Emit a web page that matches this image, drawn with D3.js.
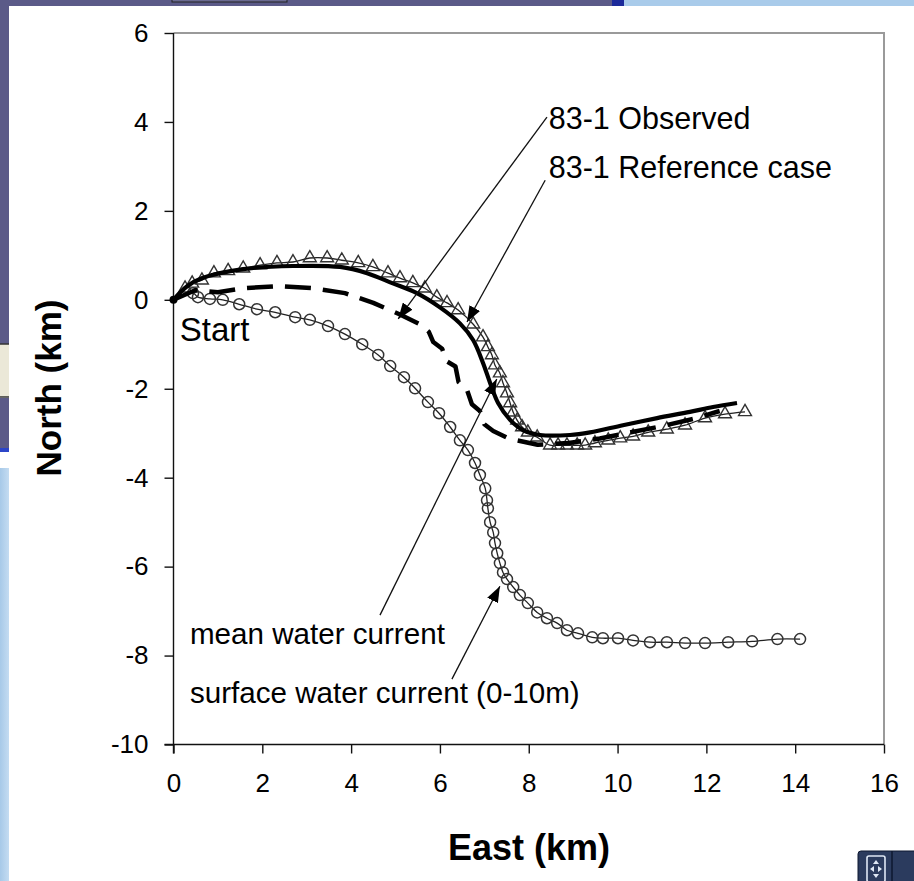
<!DOCTYPE html>
<html>
<head>
<meta charset="utf-8">
<script src="https://cdn.jsdelivr.net/npm/d3@7"></script>
<style>
  body { margin: 0; background: #fff; }
  svg { display: block; font-family: "Liberation Sans", Arial, sans-serif; }
</style>
</head>
<body>
<svg id="chart" width="914" height="881"></svg>
<script>
// Axis ticks (km)
const xTicks = [0, 2, 4, 6, 8, 10, 12, 14, 16];
const yTicks = [-10, -8, -6, -4, -2, 0, 2, 4, 6];

// Drift tracks, [east km, north km]
const observedTrack = [
  [0, 0], [0.5, 0.22], [1.0, 0.17], [1.57, 0.26], [2.38, 0.31], [3.16, 0.26],
  [3.86, 0.15], [4.5, -0.07], [5.1, -0.33], [5.55, -0.55], [5.75, -0.72],
  [5.85, -0.95], [6.05, -1.1], [6.15, -1.38], [6.35, -1.5], [6.42, -1.85],
  [6.6, -2.0], [6.72, -2.35], [6.9, -2.5], [7.0, -2.8], [7.2, -2.95],
  [7.55, -3.12], [8.2, -3.26], [8.9, -3.22], [9.6, -3.12], [10.3, -2.98],
  [11.0, -2.84], [11.7, -2.68], [12.3, -2.5]
];

const referenceTrack = [
  [0, 0], [0.3, 0.3], [0.65, 0.49], [1.57, 0.69], [2.69, 0.76], [3.75, 0.74],
  [4.36, 0.6], [4.94, 0.37], [5.48, 0.15], [6.0, -0.17], [6.45, -0.53],
  [6.75, -0.91], [6.97, -1.42], [7.13, -1.87], [7.31, -2.32], [7.58, -2.7],
  [7.87, -2.93], [8.25, -3.04], [8.93, -3.04], [9.38, -2.98], [10.12, -2.82],
  [10.89, -2.66], [11.63, -2.52], [12.15, -2.41], [12.69, -2.32]
];

const meanCurrentTrack = [
  [0, 0], [0.26, 0.26], [0.42, 0.37], [0.64, 0.44], [0.91, 0.6], [1.23, 0.65],
  [1.57, 0.71], [1.95, 0.78], [2.33, 0.83], [2.69, 0.85], [3.07, 0.94],
  [3.46, 0.94], [3.79, 0.89], [4.16, 0.83], [4.49, 0.74], [4.83, 0.6],
  [5.1, 0.49], [5.39, 0.38], [5.66, 0.26], [5.93, 0.06], [6.16, -0.07],
  [6.41, -0.23], [6.75, -0.55], [6.97, -0.84], [7.08, -1.06], [7.17, -1.24],
  [7.24, -1.47], [7.35, -1.65], [7.42, -1.87], [7.51, -2.1], [7.58, -2.32],
  [7.65, -2.53], [7.74, -2.71], [7.85, -2.86], [7.98, -2.98], [8.19, -3.09],
  [8.48, -3.27], [8.66, -3.27], [8.86, -3.27], [9.09, -3.27], [9.27, -3.27],
  [9.49, -3.22], [9.79, -3.16], [10.06, -3.11], [10.35, -3.07], [10.69, -2.98],
  [11.11, -2.91], [11.52, -2.82], [11.97, -2.66], [12.42, -2.57], [12.87, -2.52]
];

const surfaceCurrentTrack = [
  [0, 0], [0.44, 0.15], [0.55, 0.06], [0.82, 0.02], [1.11, 0.0], [1.48, -0.1],
  [1.88, -0.21], [2.29, -0.28], [2.74, -0.39], [3.07, -0.45], [3.48, -0.59],
  [3.86, -0.77], [4.25, -1.0], [4.61, -1.24], [4.88, -1.49], [5.19, -1.74],
  [5.44, -1.99], [5.73, -2.3], [5.98, -2.55], [6.23, -2.86], [6.45, -3.16],
  [6.63, -3.38], [6.79, -3.67], [6.9, -3.94], [7.02, -4.24], [7.06, -4.51],
  [7.08, -4.69], [7.13, -5.0], [7.2, -5.23], [7.24, -5.47], [7.29, -5.7],
  [7.35, -5.92], [7.42, -6.13], [7.51, -6.28], [7.65, -6.46], [7.8, -6.64],
  [7.98, -6.82], [8.19, -7.03], [8.41, -7.16], [8.64, -7.27], [8.86, -7.43],
  [9.11, -7.5], [9.43, -7.59], [9.67, -7.61], [10.01, -7.61], [10.35, -7.66],
  [10.73, -7.7], [11.11, -7.7], [11.52, -7.72], [11.97, -7.72], [12.49, -7.7],
  [13.03, -7.68], [13.6, -7.63], [14.11, -7.63]
];

// Callout labels: text anchor, leader start and arrow tip (km)
const calloutLabels = ["83-1 Observed", "83-1 Reference case", "mean water current", "surface water current (0-10m)"];
const calloutText = [[8.45, 3.83], [8.45, 2.73], [0.37, -7.75], [0.37, -9.07]];
const calloutFrom = [[8.41, 4.11], [8.37, 2.69], [4.65, -7.09], [6.27, -8.53]];
const calloutTip = [[5.06, -0.43], [6.61, -0.5], [7.28, -1.78], [7.35, -6.44]];
const startLabel = { text: "Start", at: [0.14, -0.93] };

const svg = d3.select("#chart");
const W = 914, H = 881;
const defs = svg.append("defs");

// ---- slide backdrop around the chart panel ----
const bg = svg.append("g");
bg.append("rect").attr("x", 0).attr("y", 0).attr("width", W).attr("height", H).attr("fill", "#fff");
bg.append("rect").attr("x", 0).attr("y", 0).attr("width", 612).attr("height", 6).attr("fill", "#5b5a88");
bg.append("rect").attr("x", 612).attr("y", 0).attr("width", 12).attr("height", 6).attr("fill", "#1c2a9a");
bg.append("rect").attr("x", 624).attr("y", 0).attr("width", W - 624).attr("height", 6).attr("fill", "#a9cbea");
bg.append("rect").attr("x", 172).attr("y", -2).attr("width", 115).attr("height", 4)
  .attr("fill", "#6a6a90").attr("stroke", "#222").attr("stroke-width", 1);
bg.append("rect").attr("x", 0).attr("y", 0).attr("width", 9).attr("height", 344).attr("fill", "#5b5a88");
bg.append("rect").attr("x", 0).attr("y", 344).attr("width", 9).attr("height", 53).attr("fill", "#ebe8d8");
bg.append("line").attr("x1", 0).attr("x2", 9).attr("y1", 344).attr("y2", 344).attr("stroke", "#333").attr("stroke-width", 1.5);
bg.append("line").attr("x1", 0).attr("x2", 9).attr("y1", 397).attr("y2", 397).attr("stroke", "#333").attr("stroke-width", 1.5);
bg.append("rect").attr("x", 0).attr("y", 398).attr("width", 9).attr("height", 50).attr("fill", "#5b5a88");
bg.append("rect").attr("x", 0).attr("y", 448).attr("width", 9).attr("height", 4).attr("fill", "#2c45c8");
const grad = defs.append("linearGradient").attr("id", "sideBlue")
  .attr("x1", 0).attr("x2", 1).attr("y1", 0).attr("y2", 0);
grad.append("stop").attr("offset", "0%").attr("stop-color", "#a7c9e8");
grad.append("stop").attr("offset", "100%").attr("stop-color", "#c4dcf2");
bg.append("rect").attr("x", 0).attr("y", 468).attr("width", 9).attr("height", H - 468).attr("fill", "url(#sideBlue)");

// corner control button
const btn = bg.append("g");
btn.append("rect").attr("x", 858).attr("y", 851).attr("width", 60).attr("height", 34).attr("rx", 3)
  .attr("fill", "#2b3b5e").attr("stroke", "#0e1830");
btn.append("rect").attr("x", 867).attr("y", 856).attr("width", 18).attr("height", 26).attr("rx", 2)
  .attr("fill", "none").attr("stroke", "#dfe8f5").attr("stroke-width", 1.6);
btn.append("line").attr("x1", 892).attr("x2", 892).attr("y1", 851).attr("y2", 881).attr("stroke", "#0e1830").attr("stroke-width", 1.5);
btn.append("path").attr("d", "M876,860 l-3,4 h6 z M876,878 l-3,-4 h6 z M870,869 l4,-3 v6 z M882,869 l-4,-3 v6 z")
  .attr("fill", "#dfe8f5");

// ---- scales ----
const x = d3.scaleLinear().domain([0, 16]).range([173.5, 884]);
const y = d3.scaleLinear().domain([-10, 6]).range([744.5, 33]);

// plot frame (top & right)
const plot = svg.append("g");
plot.append("path")
  .attr("d", `M${x(0)},${y(6)} H${x(16)} V${y(-10)}`)
  .attr("fill", "none").attr("stroke", "#9a9a9a").attr("stroke-width", 2);

// ---- axes ----
const plainNumber = d => String(d);
const xAxis = d3.axisBottom(x).tickValues(xTicks).tickFormat(plainNumber)
  .tickSize(9).tickPadding(20).tickSizeOuter(0);
const yAxis = d3.axisLeft(y).tickValues(yTicks).tickFormat(plainNumber)
  .tickSize(9).tickPadding(16).tickSizeOuter(0);

const gx = plot.append("g").attr("transform", `translate(0,${y(-10)})`).call(xAxis);
const gy = plot.append("g").attr("transform", `translate(${x(0)},0)`).call(yAxis);
[gx, gy].forEach(g => {
  g.select(".domain").attr("stroke", "#111").attr("stroke-width", 1.4);
  g.selectAll(".tick line").attr("stroke", "#111").attr("stroke-width", 1.4);
  g.selectAll(".tick text").attr("fill", "#000").attr("font-size", 26)
    .attr("font-family", "\"Liberation Sans\", Arial, sans-serif");
});
// axes cross each other by the tick length
gx.select(".domain").attr("d", `M${x(0) - 9},0 H${x(16)}`);
gy.select(".domain").attr("d", `M0,${y(6)} V${y(-10) + 9}`);
gx.selectAll(".tick text").attr("dy", "0.71em");

// axis titles
plot.append("text").attr("x", 529).attr("y", 860).attr("text-anchor", "middle")
  .attr("font-size", 36).attr("font-weight", "bold").text("East (km)");
plot.append("text").attr("transform", `translate(61,${388}) rotate(-90)`).attr("text-anchor", "middle")
  .attr("font-size", 35).attr("font-weight", "bold").text("North (km)");

// ---- tracks ----
const line = d3.line().x(d => x(d[0])).y(d => y(d[1])).curve(d3.curveLinear);
const smooth = d3.line().x(d => x(d[0])).y(d => y(d[1])).curve(d3.curveCatmullRom.alpha(0.5));

// surface water current: thin line with open circles
plot.append("path").datum(surfaceCurrentTrack).attr("d", smooth)
  .attr("fill", "none").attr("stroke", "#222").attr("stroke-width", 1.3);
plot.append("g").selectAll("circle").data(surfaceCurrentTrack.slice(1)).join("circle")
  .attr("cx", d => x(d[0])).attr("cy", d => y(d[1])).attr("r", 5.5)
  .attr("fill", "none").attr("stroke", "#333").attr("stroke-width", 1.5);

// mean water current: thin line with open triangles
plot.append("path").datum(meanCurrentTrack).attr("d", smooth)
  .attr("fill", "none").attr("stroke", "#222").attr("stroke-width", 1.3);
const tri = d3.symbol().type(d3.symbolTriangle).size(72);
plot.append("g").selectAll("path").data(meanCurrentTrack.slice(1)).join("path")
  .attr("transform", d => `translate(${x(d[0])},${y(d[1])})`).attr("d", tri)
  .attr("fill", "none").attr("stroke", "#333").attr("stroke-width", 1.4);

// reference case: heavy solid line
plot.append("path").datum(referenceTrack).attr("d", smooth)
  .attr("fill", "none").attr("stroke", "#000").attr("stroke-width", 4.2).attr("stroke-linejoin", "round");

// observed: heavy dashed line
plot.append("path").datum(observedTrack).attr("d", line)
  .attr("fill", "none").attr("stroke", "#000").attr("stroke-width", 4.5)
  .attr("stroke-dasharray", "26,12").attr("stroke-linejoin", "round");

// start blob
plot.append("circle").attr("cx", x(0)).attr("cy", y(0)).attr("r", 4).attr("fill", "#000");

// ---- callouts ----
defs.append("marker").attr("id", "arrowHead")
  .attr("viewBox", "0 0 16 12").attr("refX", 16).attr("refY", 6)
  .attr("markerWidth", 16).attr("markerHeight", 12).attr("markerUnits", "userSpaceOnUse")
  .attr("orient", "auto")
  .append("path").attr("d", "M0,0 L16,6 L0,12 z").attr("fill", "#000");

const calloutFontSize = [30.5, 30.5, 29.6, 29.6];
const callouts = plot.append("g");
calloutLabels.forEach((label, i) => {
  callouts.append("line")
    .attr("x1", x(calloutFrom[i][0])).attr("y1", y(calloutFrom[i][1]))
    .attr("x2", x(calloutTip[i][0])).attr("y2", y(calloutTip[i][1]))
    .attr("stroke", "#111").attr("stroke-width", 1.3).attr("marker-end", "url(#arrowHead)");
  callouts.append("text").attr("x", x(calloutText[i][0])).attr("y", y(calloutText[i][1]))
    .attr("font-size", calloutFontSize[i]).attr("fill", "#000").text(label);
});
callouts.append("text").attr("x", x(startLabel.at[0])).attr("y", y(startLabel.at[1]))
  .attr("font-size", 33).attr("fill", "#000").text(startLabel.text);
</script>
</body>
</html>
